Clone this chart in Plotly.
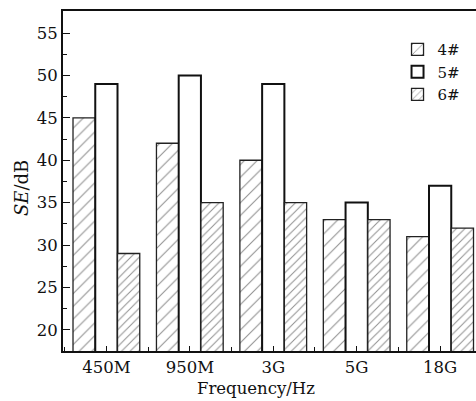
import plotly.graph_objects as go

categories = ["450M", "950M", "3G", "5G", "18G"]
s4 = [45, 42, 40, 33, 31]
s5 = [49, 50, 49, 35, 37]
s6 = [29, 35, 35, 33, 32]
y_ticks = [20, 25, 30, 35, 40, 45, 50, 55]

FONT = "DejaVu Serif"
xs = list(range(len(categories)))

fig = go.Figure()
fig.add_trace(go.Bar(
    x=xs, y=s4, name="4#",
    marker=dict(color="white", line=dict(color="#222", width=1.3),
                pattern=dict(shape="/", size=9, solidity=0.12, fgcolor="#222", bgcolor="white")),
))
fig.add_trace(go.Bar(
    x=xs, y=s5, name="5#",
    marker=dict(color="white", line=dict(color="#111", width=2)),
))
fig.add_trace(go.Bar(
    x=xs, y=s6, name="6#",
    marker=dict(color="white", line=dict(color="#222", width=1.3),
                pattern=dict(shape="/", size=6, solidity=0.17, fgcolor="#222", bgcolor="white")),
))

fig.update_layout(
    width=476, height=401,
    margin=dict(l=63, r=0, t=11, b=50),
    plot_bgcolor="white", paper_bgcolor="white",
    barmode="group", bargap=0.2, bargroupgap=0,
    font=dict(family=FONT, size=16.5, color="#111"),
    showlegend=True,
    legend=dict(x=0.81, y=0.935, xanchor="left", yanchor="top",
                bgcolor="rgba(0,0,0,0)", font=dict(size=15, family=FONT),
                tracegroupgap=0, itemwidth=30),
    xaxis=dict(
        range=[-0.52, 4.43],
        tickmode="array", tickvals=xs, ticktext=categories,
        ticks="inside", ticklen=5, tickwidth=1, tickcolor="#111",
        minor=dict(tickmode="array", tickvals=[x + 0.5 for x in xs[:-1]] + [-0.5],
                   ticks="inside", ticklen=4, tickcolor="#111"),
        showline=True, linecolor="#111", linewidth=1.8, mirror=True,
        showgrid=False, zeroline=False,
    ),
    yaxis=dict(
        range=[17.5, 57.6],
        tickmode="array", tickvals=y_ticks,
        ticks="inside", ticklen=7, tickwidth=1, tickcolor="#111",
        minor=dict(dtick=2.5, tick0=0, ticks="inside", ticklen=4, tickcolor="#111"),
        showline=True, linecolor="#111", linewidth=1.8, mirror=False,
        showgrid=False, zeroline=False,
    ),
    annotations=[
        dict(text="Frequency/Hz", xref="paper", yref="paper", x=0.467, y=-0.109,
             xanchor="center", yanchor="middle", showarrow=False,
             font=dict(size=16.5, family=FONT, color="#111")),
        dict(text="<i>SE</i>/dB", xref="paper", yref="paper", x=-0.102, y=0.479,
             xanchor="center", yanchor="middle", showarrow=False, textangle=-90,
             font=dict(size=18, family=FONT, color="#111")),
    ],
)

fig.write_html("out.html")
